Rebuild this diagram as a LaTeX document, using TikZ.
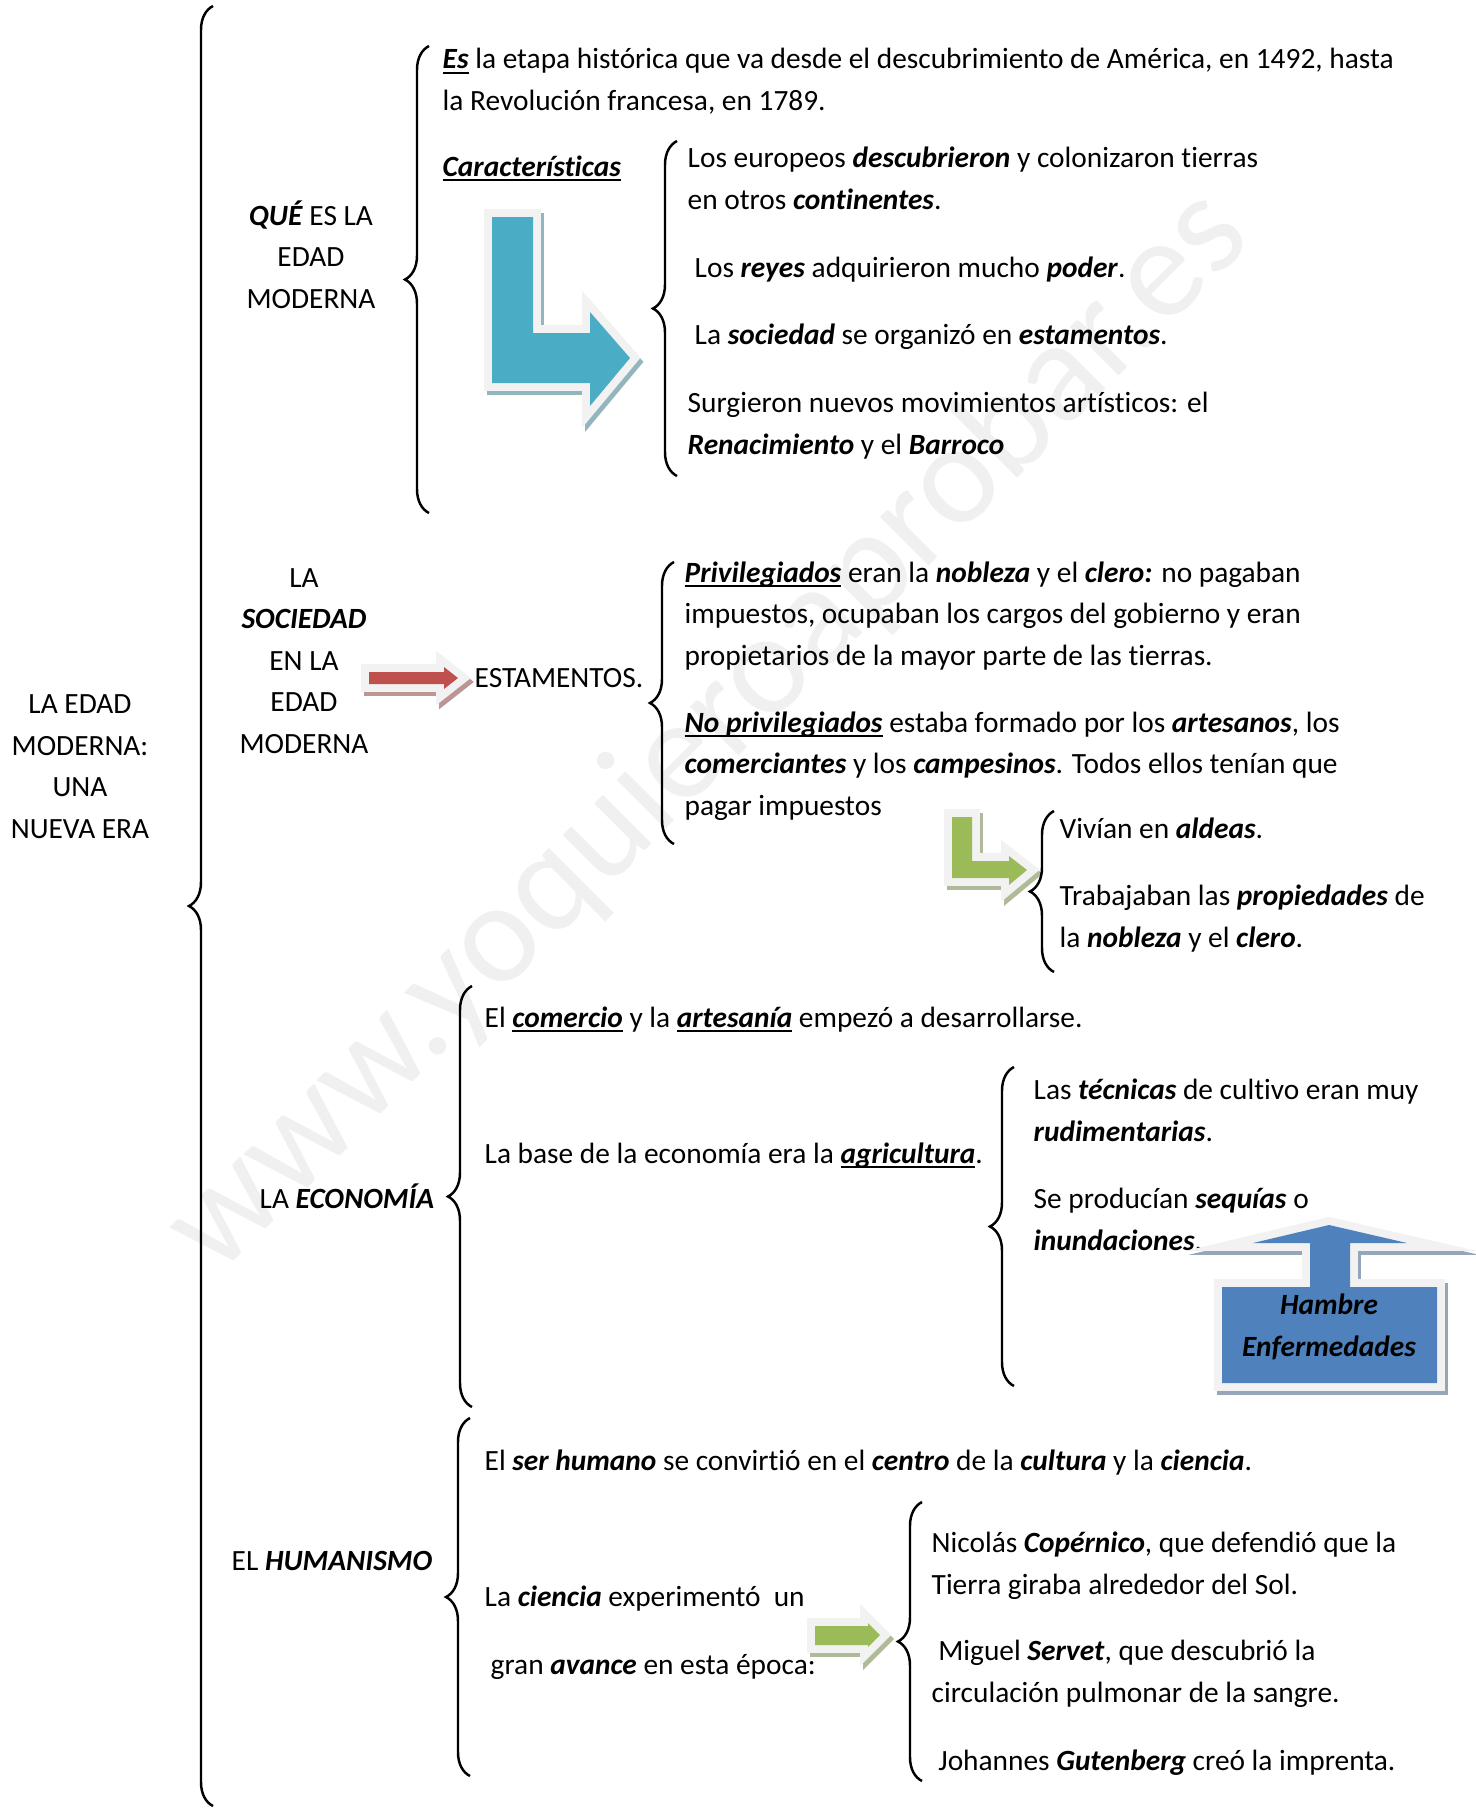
\documentclass[tikz,border=0pt]{standalone}
\usepackage{fontspec}
\setmainfont[Ligatures=NoCommon]{Carlito}
\usetikzlibrary{decorations.pathreplacing}
\definecolor{aquaarr}{RGB}{75,172,198}
\definecolor{redarr}{RGB}{192,80,77}
\definecolor{greenarr}{RGB}{155,187,89}
\definecolor{bluebox}{RGB}{79,129,189}
\definecolor{outl}{RGB}{242,242,242}
\definecolor{wmark}{RGB}{240,240,240}
\newsavebox{\ulbox}
\newcommand{\bit}[1]{\textbf{\textit{#1}}}
\newcommand{\bul}[1]{\sbox{\ulbox}{\textbf{\textit{#1}}}\rlap{\rule[-1.5pt]{\wd\ulbox}{0.55pt}}\usebox{\ulbox}}

\begin{document}
\begin{tikzpicture}[x=0.01cm, y=-0.01cm,
  txt/.style={anchor=base west, inner sep=0pt, align=left, font=\fontsize{8.35}{11.8}\selectfont},
  ctxt/.style={txt, anchor=base, align=center},
  wbrace/.style={decorate, decoration={brace, amplitude=0.24cm}, line width=0.7pt},
  arr/.style={fill=#1, line join=miter,
    preaction={fill=#1!50!gray!70, draw=#1!50!gray!70, line width=4.5pt, transform canvas={shift={(3,4)}}},
    preaction={draw=outl, line width=4.5pt}}]
\useasboundingbox (0,0) rectangle (1476,1808);

% watermark
\node[rotate=45, text=wmark, font=\fontsize{41}{41}\selectfont] (wm) at (709,732) {www.yoquieroaprobar.es};

% main title (base = last line)
\draw[wbrace] (213,1806) -- (213,6);
\node[ctxt] (title) at (80,838) {LA EDAD\\MODERNA:\\UNA\\NUEVA ERA};

% Que es la edad moderna
\node[ctxt] (que) at (311,308) {\bit{QUÉ} ES LA\\EDAD\\MODERNA};
\draw[wbrace] (429,513) -- (429,46);
\node[txt] (es) at (442,110) {\bul{Es} la etapa histórica que va desde el descubrimiento de América, en 1492, hasta\\la Revolución francesa, en 1789.};
\node[txt] (caract) at (442,176) {\bul{Características}};
\fill[arr=aquaarr] (492,217) -- (533,217) -- (533,333) -- (590,333) -- (590,312) -- (630,358) -- (590,406) -- (590,383) -- (492,383) -- cycle;
\draw[wbrace] (677,476) -- (677,141);
\node[txt] (eur) at (687,209) {Los europeos \bit{descubrieron} y colonizaron tierras\\en otros \bit{continentes}.};
\node[txt] (reyes) at (694,277) {Los \bit{reyes} adquirieron mucho \bit{poder}.};
\node[txt] (soc) at (694,344) {La \bit{sociedad} se organizó en \bit{estamentos}.};
\node[txt] (surg) at (687,454) {Surgieron nuevos movimientos artísticos: el\\\bit{Renacimiento} y el \bit{Barroco}};

% La sociedad
\node[ctxt] (socied) at (304,753) {LA\\\bit{SOCIEDAD}\\EN LA\\EDAD\\MODERNA};
\fill[arr=redarr] (369,672) -- (444,672) -- (444,667) -- (458,678) -- (444,689) -- (444,684) -- (369,684) -- cycle;
\node[txt] (estam) at (474,687) {ESTAMENTOS.};
\draw[wbrace] (674,844) -- (674,562);
\node[txt] (priv) at (684,665) {\bul{Privilegiados} eran la \bit{nobleza} y el \bit{clero:} no pagaban\\impuestos, ocupaban los cargos del gobierno y eran\\propietarios de la mayor parte de las tierras.};
\node[txt] (nopriv) at (684,815) {\bul{No privilegiados} estaba formado por los \bit{artesanos}, los\\\bit{comerciantes} y los \bit{campesinos}. Todos ellos tenían que\\pagar impuestos};
\fill[arr=greenarr] (952,817) -- (972,817) -- (972,861) -- (1009,861) -- (1009,856) -- (1027,870) -- (1009,885) -- (1009,878) -- (952,878) -- cycle;
\draw[wbrace] (1054,972) -- (1054,811);
\node[txt] (viv) at (1059,838) {Vivían en \bit{aldeas}.};
\node[txt] (trab) at (1059,947) {Trabajaban las \bit{propiedades} de\\la \bit{nobleza} y el \bit{clero}.};

% La economia
\node[txt] (econ) at (259,1208) {LA \bit{ECONOMÍA}};
\draw[wbrace] (472,1407) -- (472,986);
\node[txt] (comer) at (484,1027) {El \bul{comercio} y la \bul{artesanía} empezó a desarrollarse.};
\node[txt] (base) at (484,1163) {La base de la economía era la \bul{agricultura}.};
\draw[wbrace] (1014,1386) -- (1014,1067);
\node[txt] (tecn) at (1033,1141) {Las \bit{técnicas} de cultivo eran muy\\\bit{rudimentarias}.};
\node[txt] (sequ) at (1033,1250) {Se producían \bit{sequías} o\\\bit{inundaciones}.};
\fill[arr=bluebox] (1222,1287) -- (1310,1287) -- (1310,1243) -- (1253,1243) -- (1329,1225) -- (1407,1243) -- (1350,1243) -- (1350,1287) -- (1437,1287) -- (1437,1383) -- (1222,1383) -- cycle;
\node[ctxt] (hambre) at (1329,1356) {\bit{Hambre}\\\bit{Enfermedades}};

% El humanismo
\node[txt] (human) at (231,1570) {EL \bit{HUMANISMO}};
\draw[wbrace] (470,1776) -- (470,1418);
\node[txt] (ser) at (484,1470) {El \bit{ser humano} se convirtió en el \bit{centro} de la \bit{cultura} y la \bit{ciencia}.};
\node[txt] (cien) at (484,1606) {La \bit{ciencia} experimentó\ \ un};
\node[txt] (avance) at (490,1674) {gran \bit{avance} en esta época:};
\fill[arr=greenarr] (815,1626) -- (868,1626) -- (868,1623) -- (880,1635) -- (868,1647) -- (868,1645) -- (815,1645) -- cycle;
\draw[wbrace] (922,1781) -- (922,1502);
\node[txt] (cop) at (931,1594) {Nicolás \bit{Copérnico}, que defendió que la\\Tierra giraba alrededor del Sol.};
\node[txt] (serv) at (931,1702) {\hspace*{1.9pt}Miguel \bit{Servet}, que descubrió la\\circulación pulmonar de la sangre.};
\node[txt] (gut) at (931,1770) {\hspace*{1.9pt}Johannes \bit{Gutenberg} creó la imprenta.};
\end{tikzpicture}
\end{document}
